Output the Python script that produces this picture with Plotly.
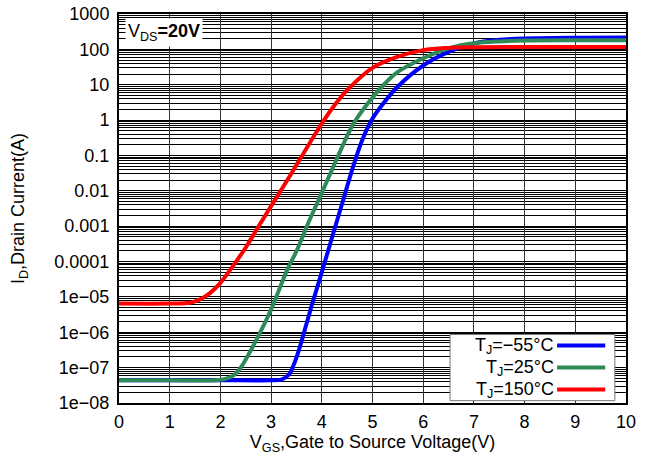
import plotly.graph_objects as go

# Transfer characteristics, V_DS = 20 V
vgs_m55 = [0, 1, 2, 3, 3.2, 3.35, 3.45, 3.55, 3.65, 3.8, 4.0, 4.2, 4.4, 4.6, 4.8, 5.0,
           5.2, 5.5, 6.0, 6.5, 7.0, 7.5, 8.0, 9.0, 10.0]
id_m55 = [4.4e-8, 4.4e-8, 4.4e-8, 4.4e-8, 4.6e-8, 6.3e-8, 1.25e-7, 3.2e-7, 1e-6, 5.6e-6, 5e-5,
          4.7e-4, 4.3e-3, 0.04, 0.28, 1.1, 2.8, 8.9, 35, 85, 148, 186, 204, 214, 215]

vgs_25 = [0, 1, 1.9, 2.1, 2.26, 2.4, 2.59, 2.8, 3.0, 3.32, 3.51, 3.75, 4.0, 4.3, 4.63,
          4.96, 5.25, 5.5, 6.0, 6.5, 7.0, 7.5, 8.0, 9.0, 10.0]
id_25 = [4.4e-8, 4.4e-8, 4.4e-8, 4.8e-8, 6e-8, 1e-7, 2.9e-7, 1.1e-6, 4.4e-6, 5.9e-5, 2.1e-4,
         1.4e-3, 8.7e-3, 0.083, 0.81, 3.7, 11, 23, 56, 107, 148, 168, 177, 180, 180]

vgs_150 = [0, 1, 1.4, 1.6, 1.8, 2.0, 2.2, 2.5, 2.7, 3.0, 3.3, 3.6, 4.0, 4.2, 4.5, 5.0,
           5.5, 6.0, 6.5, 7.0, 8.0, 9.0, 10.0]
id_150 = [6.5e-6, 6.5e-6, 6.8e-6, 8.5e-6, 1.3e-5, 2.5e-5, 6e-5, 2.5e-4, 7.4e-4, 3.7e-3, 0.018,
          0.093, 0.8, 2.1, 7, 30, 62, 95, 110, 115, 117, 117, 117]

series_names = ["T<sub>J</sub>=−55°C", "T<sub>J</sub>=25°C", "T<sub>J</sub>=150°C"]
series_colors = ["#0000ff", "#2e8b57", "#ff0000"]

x_ticks = list(range(0, 11))
y_tickvals = [1e-8, 1e-7, 1e-6, 1e-5, 1e-4, 1e-3, 1e-2, 1e-1, 1, 10, 100, 1000]
y_ticktext = ["1e−08", "1e−07", "1e−06", "1e−05", "0.0001", "0.001", "0.01", "0.1",
              "1", "10", "100", "1000"]
y_minor = [k * 10.0 ** e for e in range(-8, 3) for k in range(2, 10)]

FONT = "Liberation Sans, Arial, Helvetica, sans-serif"

fig = go.Figure()
for xs, ys, name, color in [(vgs_m55, id_m55, series_names[0], series_colors[0]),
                            (vgs_25, id_25, series_names[1], series_colors[1]),
                            (vgs_150, id_150, series_names[2], series_colors[2])]:
    fig.add_trace(go.Scatter(x=xs, y=ys, mode="lines", name=name,
                             line=dict(color=color, width=4, shape="spline", smoothing=1.0),
                             showlegend=False))

fig.update_layout(
    width=652, height=463,
    margin=dict(l=118.6, r=26, t=14, b=59.5),
    paper_bgcolor="white", plot_bgcolor="white",
    font=dict(family=FONT, size=18, color="black"),
)
fig.update_xaxes(
    range=[0, 10], tickvals=x_ticks, showgrid=True, gridcolor="#333", gridwidth=1,
    showline=True, linecolor="black", linewidth=2, mirror=True, ticks="",
    zeroline=False, tickfont=dict(size=18), ticklabelstandoff=1, automargin=False,
    title=dict(text="V<sub>GS</sub>,Gate to Source Voltage(V)", standoff=5,
               font=dict(size=18)),
)
fig.update_yaxes(
    type="log", range=[-8, 3], tickvals=y_tickvals, ticktext=y_ticktext,
    showgrid=True, gridcolor="black", gridwidth=1,
    minor=dict(tickvals=y_minor, showgrid=True, gridcolor="black", gridwidth=1, ticks=""),
    showline=True, linecolor="black", linewidth=2, mirror=True, ticks="",
    zeroline=False, tickfont=dict(size=18), ticklabelstandoff=4, automargin=False,
    title=dict(text="I<sub>D</sub>,Drain Current(A)", standoff=25, font=dict(size=18)),
)

# Operating condition label
fig.add_annotation(
    xref="paper", yref="paper", x=0.012, y=0.99, xanchor="left", yanchor="top",
    text="V<sub>DS</sub><b>=20V</b>", showarrow=False, bgcolor="white",
    font=dict(size=18), borderpad=2,
)

# Legend box with line samples on the right
box_x0, box_x1, box_y0, box_y1 = 0.653, 0.978, 0.006, 0.176
fig.add_shape(type="rect", xref="paper", yref="paper",
              x0=box_x0, x1=box_x1, y0=box_y0, y1=box_y1,
              fillcolor="white", line=dict(color="#777", width=1), layer="above")
row_y = [0.1476, 0.0911, 0.0347]
for name, color, ry in zip(series_names, series_colors, row_y):
    fig.add_shape(type="line", xref="paper", yref="paper",
                  x0=0.864, x1=0.959, y0=ry, y1=ry,
                  line=dict(color=color, width=4), layer="above")
    fig.add_annotation(xref="paper", yref="paper", x=0.859, y=ry,
                       xanchor="right", yanchor="middle", text=name, height=18,
                       borderpad=0, valign="middle", showarrow=False,
                       font=dict(size=18))

fig.write_html("out.html")
